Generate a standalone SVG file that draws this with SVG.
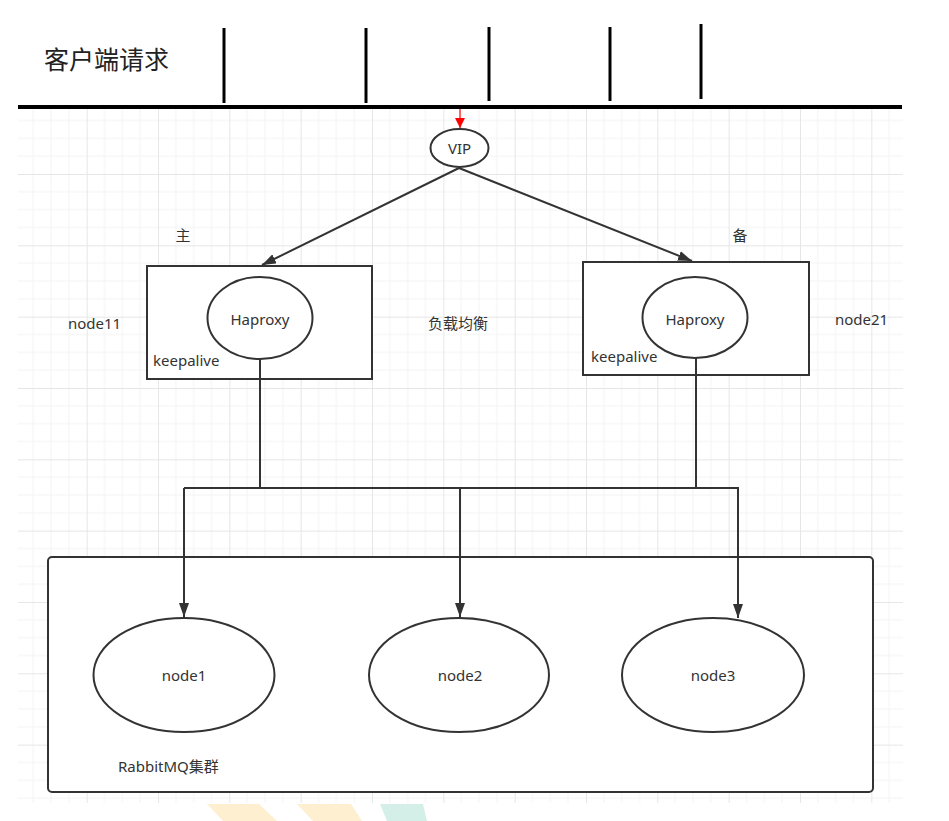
<svg xmlns="http://www.w3.org/2000/svg" width="949" height="821" viewBox="0 0 949 821">
  <style>
    .t { font-family: "Noto Sans", "Noto Sans CJK SC", "Liberation Sans", sans-serif; font-size: 15px; fill: #333333; }
    .c { text-anchor: middle; dominant-baseline: central; }
    .shape { fill: #ffffff; stroke: #333333; stroke-width: 2; }
    .conn { fill: none; stroke: #333333; stroke-width: 2; }
    .bar { stroke: #000000; stroke-width: 3; }
  </style>
  <defs>
    <pattern id="grid" patternUnits="userSpaceOnUse" x="15.37" y="102.67" width="71.33" height="71.33">
      <path d="M17.83,0 V71.33 M35.67,0 V71.33 M53.5,0 V71.33 M0,17.83 H71.33 M0,35.67 H71.33 M0,53.5 H71.33" stroke="#f3f3f3" stroke-width="1" fill="none"/>
      <path d="M0.5,0 V71.33 M0,0.5 H71.33" stroke="#e6e6e6" stroke-width="1" fill="none"/>
    </pattern>
    <marker id="arr" markerUnits="userSpaceOnUse" markerWidth="14" markerHeight="10" refX="14" refY="5" orient="auto" viewBox="0 0 14 10">
      <path d="M0,0 L14,5 L0,10 z" fill="#333333"/>
    </marker>
    <marker id="arrRed" markerUnits="userSpaceOnUse" markerWidth="10" markerHeight="10" refX="10" refY="5" orient="auto" viewBox="0 0 10 10">
      <path d="M0,0 L10,5 L0,10 z" fill="#ff0000"/>
    </marker>
  </defs>

  <rect x="0" y="0" width="949" height="821" fill="#ffffff"/>
  <rect x="18" y="108" width="885" height="695" fill="url(#grid)"/>

  <!-- decorative bottom shapes -->
  <g id="decor">
    <polygon points="207,804 259,804 277,821 223,821" fill="#fdefcf"/>
    <polygon points="297,804 351,804 362,821 313,821" fill="#fdefcf"/>
    <polygon points="380,804 423,804 427,821 387,821" fill="#d4efe8"/>
  </g>

  <g id="header">
    <text x="44" y="69" font-family="Noto Sans CJK SC, sans-serif" font-size="25" fill="#222222">客户端请求</text>
    <line class="bar" x1="224" y1="28" x2="224" y2="103"/>
    <line class="bar" x1="366" y1="28" x2="366" y2="103"/>
    <line class="bar" x1="489" y1="27" x2="489" y2="101"/>
    <line class="bar" x1="610" y1="27" x2="610" y2="101"/>
    <line class="bar" x1="701" y1="24" x2="701" y2="99"/>
    <line x1="18" y1="107" x2="902" y2="107" stroke="#000000" stroke-width="4"/>
  </g>

  <g id="cluster">
    <rect class="shape" x="48" y="557" width="825" height="235" rx="4" ry="4"/>
    <text class="t" x="118" y="772">RabbitMQ集群</text>
  </g>

  <g id="vip">
    <ellipse class="shape" cx="459.5" cy="148" rx="29" ry="19"/>
    <text class="t c" x="459.5" y="148">VIP</text>
  </g>

  <g id="master">
    <rect class="shape" x="147" y="266" width="225" height="113"/>
    <ellipse class="shape" cx="260" cy="318" rx="52.5" ry="41"/>
    <text class="t c" x="260" y="319">Haproxy</text>
    <text class="t" x="153" y="366">keepalive</text>
  </g>

  <g id="backup">
    <rect class="shape" x="583" y="262" width="226" height="113"/>
    <ellipse class="shape" cx="695" cy="317.5" rx="52.5" ry="40.5"/>
    <text class="t c" x="695" y="319">Haproxy</text>
    <text class="t" x="591" y="362">keepalive</text>
  </g>

  <g id="node1">
    <ellipse class="shape" cx="184" cy="675" rx="90.5" ry="57"/>
    <text class="t c" x="184" y="675">node1</text>
  </g>
  <g id="node2">
    <ellipse class="shape" cx="459" cy="675" rx="90" ry="57"/>
    <text class="t c" x="460" y="675">node2</text>
  </g>
  <g id="node3">
    <ellipse class="shape" cx="713" cy="675" rx="91" ry="57"/>
    <text class="t c" x="713" y="675">node3</text>
  </g>

  <g id="labels">
    <text class="t c" x="183" y="235">主</text>
    <text class="t c" x="740" y="235">备</text>
    <text class="t" x="68" y="329">node11</text>
    <text class="t" x="835" y="325">node21</text>
    <text class="t" x="428" y="329">负载均衡</text>
  </g>

  <g id="connectors">
    <line x1="460" y1="109" x2="460" y2="128" stroke="#ff0000" stroke-width="1.2" marker-end="url(#arrRed)"/>
    <line class="conn" x1="459" y1="168" x2="262" y2="265" marker-end="url(#arr)"/>
    <line class="conn" x1="459" y1="168" x2="692" y2="261" marker-end="url(#arr)"/>
    <polyline class="conn" points="260,359 260,488 696,488 696,358"/>
    <polyline class="conn" points="184,488 738,488 738,618" marker-end="url(#arr)"/>
    <line class="conn" x1="184" y1="488" x2="184" y2="617" marker-end="url(#arr)"/>
    <line class="conn" x1="460" y1="488" x2="460" y2="617" marker-end="url(#arr)"/>
  </g>
</svg>
